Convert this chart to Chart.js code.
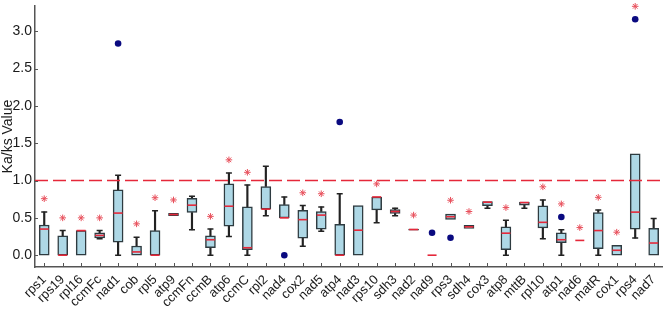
<!DOCTYPE html>
<html><head><meta charset="utf-8">
<script src="https://cdn.jsdelivr.net/npm/chart.js@4.4.1/dist/chart.umd.min.js"></script>
<style>html,body{margin:0;padding:0;background:#fff;}#wrap{width:669px;height:309px;position:relative;}</style>
</head><body><div id="wrap"><canvas id="c"></canvas></div>
<script>
const categories = ['rps1','rps19','rpl16','ccmFc','nad1','cob','rpl5','atp9','ccmFn','ccmB','atp6','ccmC','rpl2','nad4','cox2','nad5','atp4','nad3','rps10','sdh3','nad2','nad9','rps3','sdh4','cox3','atp8','mttB','rpl10','atp1','nad6','matR','cox1','rps4','nad7'];
const q1 =          [0,0,0,0.23,0.176,0,0,0.53,0.572,0.10,0.39,0.075,0.617,0.50,0.229,0.348,0,0,0.607,0.56,0.335,null,0.48,0.36,0.665,0.075,0.67,0.366,0.168,null,0.088,0,0.348,0];
const q3 =          [0.405,0.26,0.33,0.30,0.876,0.123,0.33,0.56,0.762,0.26,0.955,0.647,0.92,0.678,0.60,0.585,0.414,0.665,0.78,0.61,0.35,null,0.55,0.40,0.717,0.379,0.713,0.66,0.30,null,0.572,0.132,1.357,0.36];
const medians =     [0.35,0,0.33,0.265,0.564,0.044,0,0.545,0.67,0.207,0.656,0.10,0.617,0.50,0.476,0.537,0,0.335,0.78,0.585,0.344,0,0.515,0.38,0.71,0.295,0.705,0.44,0.207,0.198,0.33,0.066,0.577,0.163];
const whiskerLow =  [0,0,0,0.22,0,0,0,0.53,0.34,0,0.25,0,0.53,0.50,0.119,0.32,0,0,0.436,0.53,0.335,null,0.48,0.36,0.63,0,0.63,0.22,0,null,0,0,0.229,0];
const whiskerHigh = [0.58,0.33,0.33,0.33,1.07,0.24,0.594,0.56,0.79,0.35,1.10,0.94,1.19,0.78,0.665,0.647,0.823,0.665,0.78,0.63,0.35,null,0.55,0.40,0.717,0.467,0.713,0.74,0.34,null,0.604,0.132,1.357,0.493];
const outliers =    [null,null,null,null,2.835,null,null,null,null,null,null,null,null,0.0,null,null,1.783,null,null,null,null,0.30,0.234,null,null,null,null,null,0.511,null,null,null,3.16,null];
const stars =       [0.757,0.50,0.50,0.50,null,0.42,0.77,0.74,null,0.52,1.277,1.11,null,null,0.836,0.823,null,null,0.955,null,0.537,null,0.736,0.585,null,0.638,null,0.916,0.687,0.37,0.775,0.308,3.333,null];
const yTicks = [0,0.5,1.0,1.5,2.0,2.5,3.0];
const threshold = 1.0;

const boxData = categories.map((_,i)=> q1[i]==null ? null : [q1[i], q3[i]]);
const lowWhisker = categories.map((_,i)=> (whiskerLow[i]!=null && whiskerLow[i] < q1[i]) ? [whiskerLow[i], q1[i]] : null);
const highWhisker = categories.map((_,i)=> (whiskerHigh[i]!=null && whiskerHigh[i] > q3[i]) ? [q3[i], whiskerHigh[i]] : null);
const capLow = categories.map((_,i)=> lowWhisker[i] ? whiskerLow[i] : null);
const capHigh = categories.map((_,i)=> highWhisker[i] ? whiskerHigh[i] : null);

const FONT = "'Liberation Sans', Arial, sans-serif";
const RED = '#e5283a';

const extras = {
  id:'extras',
  afterDatasetsDraw(chart){
    const {ctx, chartArea:a, scales:{x,y}} = chart;
    ctx.save();
    const yy = y.getPixelForValue(threshold);
    ctx.strokeStyle = RED; ctx.lineWidth = 1.6; ctx.setLineDash([13,5]);
    ctx.beginPath(); ctx.moveTo(a.left, yy); ctx.lineTo(a.right, yy); ctx.stroke();
    ctx.setLineDash([]);
    ctx.strokeStyle = '#555'; ctx.lineWidth = 1;
    y.ticks.forEach(t=>{ const p = Math.round(y.getPixelForValue(t.value))+0.5; ctx.beginPath(); ctx.moveTo(a.left, p); ctx.lineTo(a.left+3, p); ctx.stroke(); });
    categories.forEach((_,i)=>{ const p = Math.round(x.getPixelForValue(i))+0.5; ctx.beginPath(); ctx.moveTo(p, a.bottom); ctx.lineTo(p, a.bottom-4); ctx.stroke(); });
    ctx.restore();
  }
};

new Chart(document.getElementById('c'), {
  type:'bar',
  data:{
    labels: categories,
    datasets:[
      {type:'bar', data: lowWhisker, backgroundColor:'#222', borderWidth:0, barThickness:1.5, grouped:false, order:6},
      {type:'bar', data: highWhisker, backgroundColor:'#222', borderWidth:0, barThickness:1.5, grouped:false, order:6},
      {type:'bar', data: boxData, backgroundColor:'#aed8e6', borderColor:'#2e3b40', borderWidth:1.5, borderSkipped:false, barThickness:10, grouped:false, order:5},
      {type:'line', data: capLow, showLine:false, pointStyle:'line', pointRadius:3, borderColor:'#222', borderWidth:1.5, order:4},
      {type:'line', data: capHigh, showLine:false, pointStyle:'line', pointRadius:3, borderColor:'#222', borderWidth:1.5, order:4},
      {type:'line', data: medians, showLine:false, pointStyle:'line', pointRadius:4.5, borderColor:RED, borderWidth:1.6, order:3},
      {type:'line', data: outliers, showLine:false, pointStyle:'circle', pointRadius:3.3, backgroundColor:'#0a0a80', borderColor:'#0a0a80', borderWidth:0, order:2},
      {type:'line', data: stars, showLine:false, pointStyle:'star', pointRadius:3.3, borderColor:'#e8505c', borderWidth:1, clip:false, order:1}
    ]
  },
  options:{
    responsive:true, maintainAspectRatio:false, animation:false,
    layout:{padding:{top:3,right:0,left:0,bottom:0}},
    plugins:{legend:{display:false}, tooltip:{enabled:false}},
    scales:{
      x:{
        offset:true,
        grid:{display:false, drawTicks:false},
        border:{display:true,color:'#555',width:1.5},
        ticks:{autoSkip:false,minRotation:45,maxRotation:45,color:'#1a1a1a',font:{family:FONT,size:13},padding:5},
        afterFit(s){ s.height = 42; s.paddingLeft = 0; s.paddingRight = 0; }
      },
      y:{
        min:-0.158, max:3.336,
        grid:{display:false, drawTicks:false},
        border:{display:true,color:'#555',width:1.5},
        ticks:{color:'#1a1a1a',font:{family:FONT,size:14},padding:3},
        afterBuildTicks(s){ s.ticks = yTicks.map(v=>({value:v})); },
        afterTickToLabelConversion(s){ s.ticks.forEach(t=>{ t.label = t.value.toFixed(1); }); },
        title:{display:true,text:'Ka/ks Value',color:'#1a1a1a',font:{family:FONT,size:14},padding:{top:0,bottom:0}},
        afterFit(s){ s.width = 35; s.paddingTop = 0; s.paddingBottom = 0; }
      }
    }
  },
  plugins:[extras]
});
</script></body></html>
